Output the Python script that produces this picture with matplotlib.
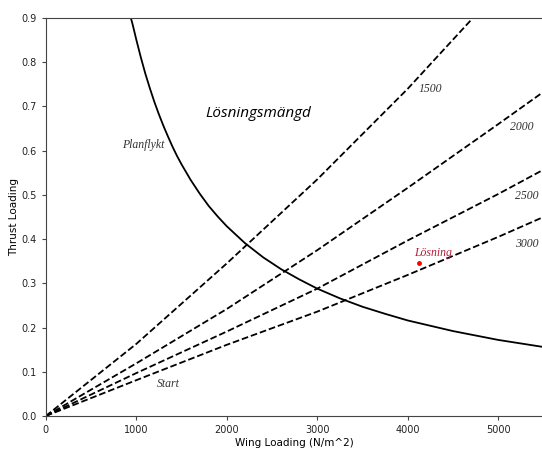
import matplotlib
matplotlib.use("Agg")
import matplotlib.pyplot as plt

# Planflykt (level flight) curve
plan_x = [940, 960, 980, 1000, 1050, 1100, 1150, 1200, 1250, 1300, 1350, 1400, 1450,
          1500, 1600, 1700, 1800, 1900, 2000, 2200, 2400, 2600, 2800, 3000, 3250,
          3500, 3750, 4000, 4250, 4500, 4750, 5000, 5250, 5500]
plan_y = [0.900, 0.885, 0.868, 0.851, 0.811, 0.774, 0.741, 0.710, 0.682, 0.656, 0.632,
          0.609, 0.588, 0.569, 0.534, 0.503, 0.475, 0.451, 0.429, 0.391, 0.359, 0.332,
          0.309, 0.288, 0.266, 0.247, 0.231, 0.216, 0.204, 0.192, 0.182, 0.172, 0.164,
          0.156]

# Start (takeoff) curves for runway lengths
start_x = [0, 1000, 2000, 3000, 4000, 5000, 5500]
start_1500_x = [0, 1000, 2000, 3000, 4000, 4720]
start_1500_y = [0, 0.163, 0.345, 0.535, 0.740, 0.900]
start_2000_y = [0, 0.119, 0.242, 0.375, 0.516, 0.660, 0.733]
start_2500_y = [0, 0.097, 0.191, 0.288, 0.397, 0.502, 0.557]
start_3000_y = [0, 0.081, 0.161, 0.236, 0.319, 0.405, 0.450]

# Solution point
sol_x = [4128]
sol_y = [0.347]

fig = plt.figure(figsize=(5.42, 4.49), dpi=100)
ax = fig.add_axes([0.0845, 0.0735, 1.0028 - 0.0845, 0.960 - 0.0735])

ax.plot(plan_x, plan_y, color="black", lw=1.3)
ax.plot(start_1500_x, start_1500_y, color="black", lw=1.3, ls="--")
ax.plot(start_x, start_2000_y, color="black", lw=1.3, ls="--")
ax.plot(start_x, start_2500_y, color="black", lw=1.3, ls="--")
ax.plot(start_x, start_3000_y, color="black", lw=1.3, ls="--")
ax.plot(sol_x, sol_y, "o", color="red", ms=2.5)

ax.set_xlim(0, 5500)
ax.set_ylim(0, 0.9)
ax.set_xticks([0, 1000, 2000, 3000, 4000, 5000])
ax.set_yticks([0.0, 0.1, 0.2, 0.3, 0.4, 0.5, 0.6, 0.7, 0.8, 0.9])
ax.tick_params(labelsize=7, length=3, color="#444444", labelcolor="#222222")
for s in ax.spines.values():
    s.set_color("#444444")
ax.set_xlabel("Wing Loading (N/m^2)", fontsize=7.5, labelpad=2)
ax.set_ylabel("Thrust Loading", fontsize=7.5, labelpad=2)

serif = dict(family="Liberation Serif", style="italic", fontsize=8.5, color="#333333",
             ha="center", va="center")
ax.text(4245, 0.740, "1500", **serif)
ax.text(5262, 0.654, "2000", **serif)
ax.text(5317, 0.498, "2500", **serif)
ax.text(5317, 0.389, "3000", **serif)
ax.text(1074, 0.613, "Planflykt", **serif)
ax.text(1350, 0.072, "Start", **serif)
ax.text(4278, 0.369, "Lösning", family="Liberation Serif", style="italic", fontsize=8.5,
        color="#b0203a", ha="center", va="center")
ax.text(2345, 0.683, "Lösningsmängd", family="Open Sans", style="italic", fontsize=11,
        color="black", ha="center", va="center")

fig.savefig("out.png", dpi=100)
